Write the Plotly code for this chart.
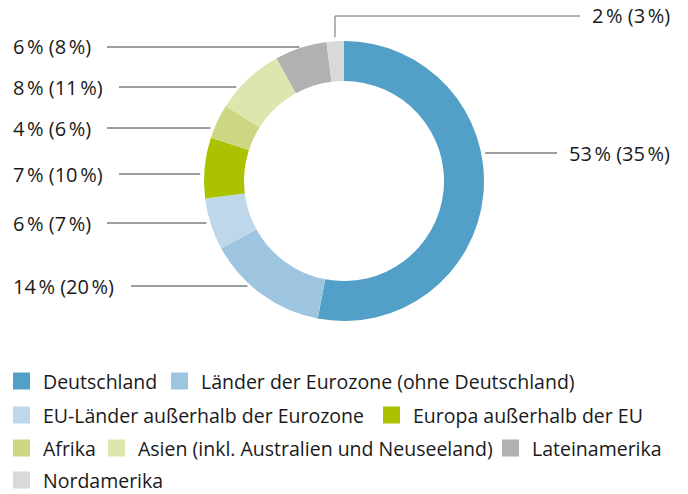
import plotly.graph_objects as go

# ---- data ----
regions = ["Deutschland", "Länder der Eurozone (ohne Deutschland)",
           "EU-Länder außerhalb der Eurozone", "Europa außerhalb der EU",
           "Afrika", "Asien (inkl. Australien und Neuseeland)",
           "Lateinamerika", "Nordamerika"]
share_now = [53, 14, 6, 7, 4, 8, 6, 2]
share_prev = [35, 20, 7, 10, 6, 11, 8, 3]
colors = ["#52a0c7", "#9ec5e0", "#bfd7ea", "#abc200",
          "#cdd783", "#dee6b0", "#b1b1b2", "#d9d9d9"]

W, H = 688, 494
FONT = "Open Sans"
TXT = "#1a1a1a"
LINE = "#3a3a3a"

# ---- layout helpers (pixel -> paper) ----
def px(x):
    return x / W

def py(y):
    return 1 - y / H

cx, cy, R = 344, 181, 140
hole = 100 / 140

fig = go.Figure()
fig.add_trace(go.Pie(
    labels=regions, values=share_now, sort=False, direction="clockwise",
    rotation=0, hole=hole, textinfo="none", hoverinfo="label+percent",
    marker=dict(colors=colors, line=dict(width=0)), showlegend=False,
    domain=dict(x=[px(cx - R), px(cx + R)], y=[py(cy + R), py(cy - R)]),
))

NSP = "\u202f"

def label_text(i):
    return f"{share_now[i]}{NSP}% ({share_prev[i]}{NSP}%)"

shapes = []
annotations = []

def txt(text, x, y, size):
    annotations.append(dict(text=text, x=px(x), y=py(y), xref="paper", yref="paper",
                            xanchor="left", yanchor="middle", showarrow=False,
                            borderpad=0,
                            font=dict(family=FONT, size=size, color=TXT)))

# left-side labels: (index, label y, line start x)
left_labels = [(6, 47, 107), (5, 87, 119), (4, 128, 107),
               (3, 174, 119), (2, 223, 107), (1, 286, 131)]
gap = 4
for idx, y, x0 in left_labels:
    dy = y - cy
    x1 = cx - (R * R - dy * dy) ** 0.5 - gap
    shapes.append(dict(type="line", xref="paper", yref="paper",
                       x0=px(x0), x1=px(x1), y0=py(y), y1=py(y),
                       line=dict(color=LINE, width=1)))
    txt(label_text(idx), 12, y, 20)

# Deutschland (right)
y = 153
dy = y - cy
x1 = cx + (R * R - dy * dy) ** 0.5 + gap
shapes.append(dict(type="line", xref="paper", yref="paper",
                   x0=px(x1), x1=px(557), y0=py(y), y1=py(y),
                   line=dict(color=LINE, width=1)))
txt(label_text(0), 568, y, 20)

# Nordamerika (top, elbow line)
xv, yt = 335, 16
dx = xv - cx
yb = cy - (R * R - dx * dx) ** 0.5 - gap
shapes.append(dict(type="path", xref="paper", yref="paper",
                   path=f"M {px(xv)},{py(yb)} L {px(xv)},{py(yt)} L {px(580)},{py(yt)}",
                   line=dict(color="#6a6a6a", width=1)))
txt(label_text(7), 591, yt, 20)

# ---- manual legend ----
legend_pos = [(13, 381), (171, 381), (13, 415), (383, 415),
              (13, 448), (108, 448), (502, 448), (13, 480)]
sq = 17
for i, (lx, ly) in enumerate(legend_pos):
    shapes.append(dict(type="rect", xref="paper", yref="paper",
                       x0=px(lx), x1=px(lx + sq), y0=py(ly + sq / 2), y1=py(ly - sq / 2),
                       fillcolor=colors[i], line=dict(width=0)))
    txt(regions[i], lx + 29, ly, 19.5)

fig.update_layout(
    width=W, height=H, margin=dict(l=0, r=0, t=0, b=0),
    paper_bgcolor="white", plot_bgcolor="white",
    shapes=shapes, annotations=annotations, showlegend=False,
)

fig.write_html("out.html", config={"displayModeBar": False},
               post_script="document.body.style.margin='0';")
